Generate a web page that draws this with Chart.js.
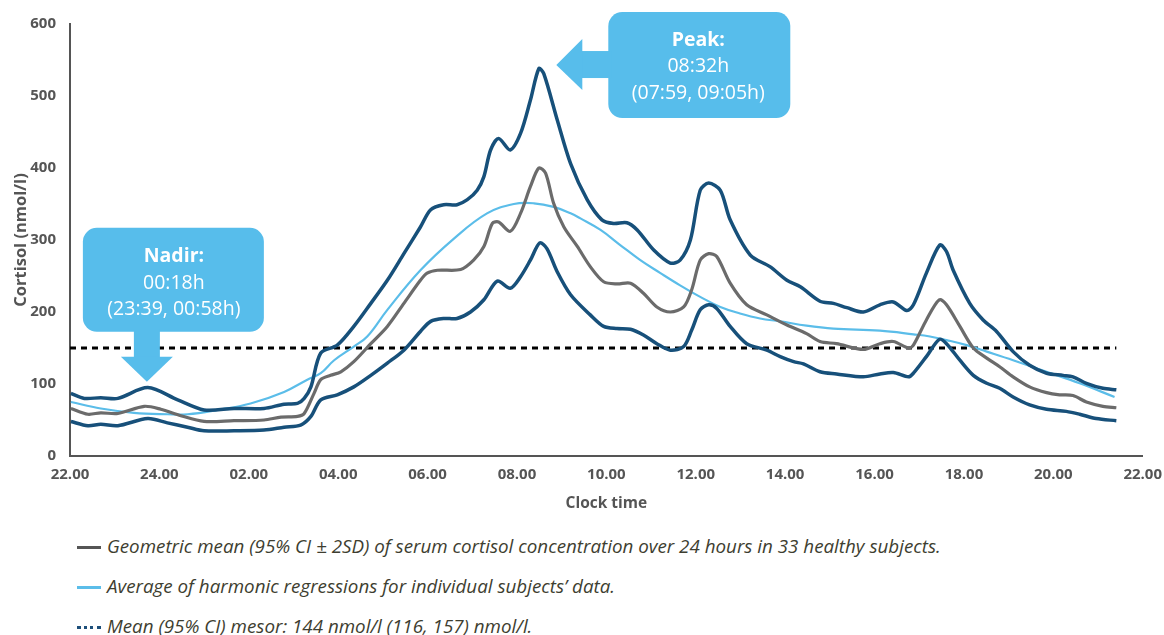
<!DOCTYPE html>
<html>
<head>
<meta charset="utf-8">
<script src="https://cdn.jsdelivr.net/npm/chart.js@4.4.1/dist/chart.umd.min.js"></script>
<style>
  body { margin: 0; background: #fff; }
  #wrap { position: relative; width: 1164px; height: 635px; }
  #box { position: absolute; left: 0; top: 0; width: 1164px; height: 520px; }
  .leg { position: absolute; left: 77px; font-family: "Open Sans", sans-serif; font-style: italic;
         font-size: 18.8px; color: #3e3e30; white-space: nowrap; line-height: 22px; }
  .leg span.mk { display: inline-block; width: 24px; height: 3px; vertical-align: middle; margin-right: 6px; }
</style>
</head>
<body>
<div id="wrap">
  <div id="box"><canvas id="cortisolChart" width="1164" height="520"></canvas></div>
  <div class="leg" style="top:535px"><span class="mk" style="background:#555"></span>Geometric mean (95% CI ± 2SD) of serum cortisol concentration over 24 hours in 33 healthy subjects.</div>
  <div class="leg" style="top:575px"><span class="mk" style="background:#5bbde9"></span>Average of harmonic regressions for individual subjects’ data.</div>
  <div class="leg" style="top:615px"><span class="mk" style="height:0;border-top:3px dotted #1d4f7a"></span>Mean (95% CI) mesor: 144 nmol/l (116, 157) nmol/l.</div>
</div>
<script>
// ore trascorse dalle 22.00
const tickLabels = ["22.00", "24.00", "02.00", "04.00", "06.00", "08.00", "10.00", "12.00", "14.00", "16.00", "18.00", "20.00", "22.00"];

// limite superiore (95% CI)
const upperTimes = [0.02, 0.32, 0.69, 1.07, 1.74, 2.41, 3.0, 3.67, 4.34, 4.79, 5.09, 5.24, 5.39, 5.61, 5.98, 6.35, 6.73, 7.10, 7.47, 7.84, 8.07, 8.36, 8.66, 8.89, 9.11, 9.26, 9.41, 9.59, 9.85, 10.08, 10.30, 10.49, 10.60, 10.90, 11.20, 11.57, 11.90, 12.16, 12.46, 12.69, 13.06, 13.43, 13.65, 13.88, 14.10, 14.29, 14.55, 14.77, 15.22, 15.66, 16.04, 16.34, 16.78, 17.08, 17.38, 17.75, 18.12, 18.42, 18.72, 18.87, 19.16, 19.46, 19.61, 19.76, 20.13, 20.43, 20.73, 21.10, 21.47, 21.85, 22.22, 22.44, 22.74, 23.11, 23.41];
const upperValues = [87, 80, 81, 80, 95, 78, 64, 66, 66, 72, 73, 80, 96, 143, 154, 180, 212, 244, 281, 318, 342, 349, 349, 356, 369, 388, 425, 441, 425, 448, 494, 538, 531, 467, 406, 356, 328, 323, 324, 314, 286, 268, 272, 300, 369, 379, 369, 328, 279, 263, 244, 235, 215, 212, 206, 200, 210, 214, 202, 210, 254, 293, 284, 258, 212, 189, 173, 145, 126, 115, 112, 110, 101, 94, 92];

// media geometrica
const meanTimes = [0.02, 0.40, 0.69, 1.07, 1.66, 2.03, 2.48, 3.0, 3.67, 4.34, 4.72, 5.09, 5.24, 5.46, 5.61, 5.83, 6.06, 6.35, 6.73, 7.10, 7.47, 7.84, 7.99, 8.22, 8.74, 9.03, 9.26, 9.45, 9.59, 9.85, 10.08, 10.30, 10.49, 10.64, 10.82, 11.05, 11.35, 11.64, 11.94, 12.24, 12.54, 12.83, 13.13, 13.43, 13.73, 13.91, 14.10, 14.29, 14.47, 14.77, 15.14, 15.59, 16.04, 16.48, 16.78, 17.15, 17.75, 18.12, 18.42, 18.76, 18.87, 19.16, 19.45, 19.61, 19.91, 20.21, 20.51, 20.80, 21.10, 21.47, 21.85, 22.14, 22.44, 22.74, 23.11, 23.41];
const meanValues = [66, 58, 60, 59, 69, 65, 56, 48, 49, 50, 54, 55, 59, 87, 106, 112, 117, 131, 156, 180, 212, 244, 254, 258, 259, 272, 291, 323, 325, 312, 337, 374, 400, 393, 351, 318, 291, 263, 242, 239, 240, 226, 207, 200, 207, 231, 272, 281, 277, 240, 210, 196, 182, 170, 159, 156, 148, 156, 159, 150, 154, 189, 217, 210, 180, 150, 136, 124, 110, 96, 88, 85, 84, 75, 69, 67];

// limite inferiore (95% CI)
const lowerTimes = [0.02, 0.40, 0.69, 1.07, 1.74, 2.18, 2.63, 3.0, 3.67, 4.34, 4.79, 5.16, 5.39, 5.61, 5.98, 6.35, 6.73, 7.10, 7.47, 7.84, 8.07, 8.36, 8.66, 8.96, 9.26, 9.56, 9.85, 10.08, 10.30, 10.51, 10.67, 10.90, 11.20, 11.64, 11.94, 12.24, 12.54, 12.83, 13.13, 13.43, 13.73, 13.91, 14.10, 14.29, 14.47, 14.77, 15.14, 15.59, 15.89, 16.19, 16.41, 16.78, 17.15, 17.75, 18.12, 18.42, 18.76, 18.87, 19.16, 19.45, 19.61, 19.91, 20.21, 20.51, 20.80, 21.10, 21.47, 21.85, 22.29, 22.59, 22.96, 23.41];
const lowerValues = [48, 42, 44, 42, 52, 46, 40, 35, 35, 36, 40, 43, 55, 78, 85, 96, 112, 129, 147, 173, 187, 191, 191, 200, 217, 243, 233, 249, 272, 296, 288, 256, 224, 196, 180, 177, 176, 168, 156, 147, 152, 175, 203, 210, 205, 180, 156, 147, 138, 131, 128, 117, 114, 110, 114, 116, 110, 115, 138, 162, 156, 133, 112, 101, 94, 82, 71, 65, 62, 58, 52, 49];

// media delle regressioni armoniche
const harmonicTimes = [0.02, 0.69, 1.43, 2.18, 2.63, 3.30, 4.04, 4.79, 5.31, 5.61, 5.91, 6.35, 6.65, 7.10, 7.84, 8.59, 9.33, 9.93, 10.38, 10.82, 11.20, 11.42, 11.87, 12.31, 12.76, 13.21, 13.65, 14.10, 14.55, 14.99, 15.44, 15.89, 16.48, 17.08, 18.12, 18.87, 19.24, 19.61, 20.06, 20.51, 21.10, 21.85, 22.59, 23.37];
const harmonicValues = [75, 66, 60, 58, 58, 64, 73, 89, 106, 115, 133, 152, 166, 203, 258, 302, 337, 350, 351, 346, 337, 330, 314, 293, 272, 254, 237, 221, 207, 198, 191, 187, 181, 177, 174, 169, 166, 161, 154, 145, 133, 117, 101, 82];

// mesor
const mesorTimes = [0, 23.41];
const mesorValues = [150, 150];

function toPoints(times, values) {
    return times.map((t, i) => ({ x: t, y: values[i] }));
}

// Disegna i riquadri "Nadir" e "Peak"
const calloutPlugin = {
    id: 'callouts',
    afterDraw(chart) {
        const c = chart.ctx;
        const xs = chart.scales.x, ys = chart.scales.y;
        const blue = '#57bdeb';
        function roundRect(x0, y0, x1, y1, r) {
            c.beginPath();
            c.moveTo(x0 + r, y0);
            c.arcTo(x1, y0, x1, y1, r);
            c.arcTo(x1, y1, x0, y1, r);
            c.arcTo(x0, y1, x0, y0, r);
            c.arcTo(x0, y0, x1, y0, r);
            c.closePath();
            c.fill();
        }
        function texts(cx, y0, lines) {
            c.fillStyle = '#fff';
            c.textAlign = 'center';
            c.textBaseline = 'middle';
            lines.forEach((l, i) => {
                c.font = (i === 0 ? 'bold ' : '') + '19.5px "Open Sans", sans-serif';
                c.fillText(l, cx, y0 + i * 26.5);
            });
        }
        c.save();
        c.fillStyle = blue;
        // Nadir: freccia verso il basso
        let tx = xs.getPixelForValue(1.72), ty = ys.getPixelForValue(103);
        roundRect(tx - 64, ty - 154, tx + 117, ty - 50, 14);
        c.fillRect(tx - 13, ty - 52, 26, 28);
        c.beginPath();
        c.moveTo(tx - 26, ty - 25); c.lineTo(tx + 26, ty - 25); c.lineTo(tx, ty);
        c.closePath(); c.fill();
        texts(tx + 27, ty - 125, ['Nadir:', '00:18h', '(23:39, 00:58h)']);
        // Peak: freccia verso sinistra
        c.fillStyle = blue;
        tx = xs.getPixelForValue(10.88); ty = ys.getPixelForValue(543);
        roundRect(tx + 52, ty - 53, tx + 234, ty + 53, 14);
        c.fillRect(tx + 25, ty - 14, 30, 27);
        c.beginPath();
        c.moveTo(tx + 26, ty - 26); c.lineTo(tx + 26, ty + 25); c.lineTo(tx, ty);
        c.closePath(); c.fill();
        texts(tx + 142, ty - 25, ['Peak:', '08:32h', '(07:59, 09:05h)']);
        c.restore();
    }
};

const ctx = document.getElementById('cortisolChart').getContext('2d');
const chart = new Chart(ctx, {
    type: 'line',
    data: {
        datasets: [
            {
                label: 'Mesor',
                data: toPoints(mesorTimes, mesorValues),
                borderColor: '#000',
                borderWidth: 3,
                borderDash: [6, 5],
                pointRadius: 0,
                order: 5
            },
            {
                label: 'Harmonic regression',
                data: toPoints(harmonicTimes, harmonicValues),
                borderColor: '#5bbde9',
                borderWidth: 2.2,
                pointRadius: 0,
                tension: 0.4,
                order: 4
            },
            {
                label: 'Geometric mean',
                data: toPoints(meanTimes, meanValues),
                borderColor: '#6b6b6b',
                borderWidth: 3.2,
                pointRadius: 0,
                tension: 0.3,
                order: 3
            },
            {
                label: 'Upper 95% CI',
                data: toPoints(upperTimes, upperValues),
                borderColor: '#17507a',
                borderWidth: 3.5,
                pointRadius: 0,
                tension: 0.3,
                order: 2
            },
            {
                label: 'Lower 95% CI',
                data: toPoints(lowerTimes, lowerValues),
                borderColor: '#17507a',
                borderWidth: 3.5,
                pointRadius: 0,
                tension: 0.3,
                order: 1
            }
        ]
    },
    options: {
        responsive: false,
        animation: false,
        layout: { padding: { top: 24, right: 21, left: 0, bottom: 0 } },
        plugins: {
            legend: { display: false },
            tooltip: { enabled: false }
        },
        scales: {
            x: {
                type: 'linear',
                min: 0,
                max: 24,
                afterFit: s => { s.height = 64; },
                grid: { display: false },
                border: { color: '#555', width: 2 },
                ticks: {
                    stepSize: 2,
                    padding: 2,
                    color: '#555',
                    font: { family: 'Open Sans', weight: 'bold', size: 15 },
                    maxRotation: 0,
                    callback: v => tickLabels[v / 2]
                },
                title: {
                    display: true,
                    text: 'Clock time',
                    color: '#555',
                    font: { family: 'Open Sans', weight: 'bold', size: 15.5 },
                    padding: { top: 4, bottom: 7 }
                }
            },
            y: {
                min: 0,
                max: 600,
                afterFit: s => { s.width = 70; },
                grid: { display: false },
                border: { color: '#555', width: 2 },
                ticks: {
                    stepSize: 100,
                    padding: 6,
                    color: '#555',
                    font: { family: 'Open Sans', weight: 'bold', size: 15 }
                },
                title: {
                    display: true,
                    text: 'Cortisol (nmol/l)',
                    color: '#555',
                    font: { family: 'Open Sans', weight: 'bold', size: 16.5 },
                    padding: { top: 11, bottom: 0 }
                }
            }
        }
    },
    plugins: [calloutPlugin]
});
</script>
</body>
</html>
